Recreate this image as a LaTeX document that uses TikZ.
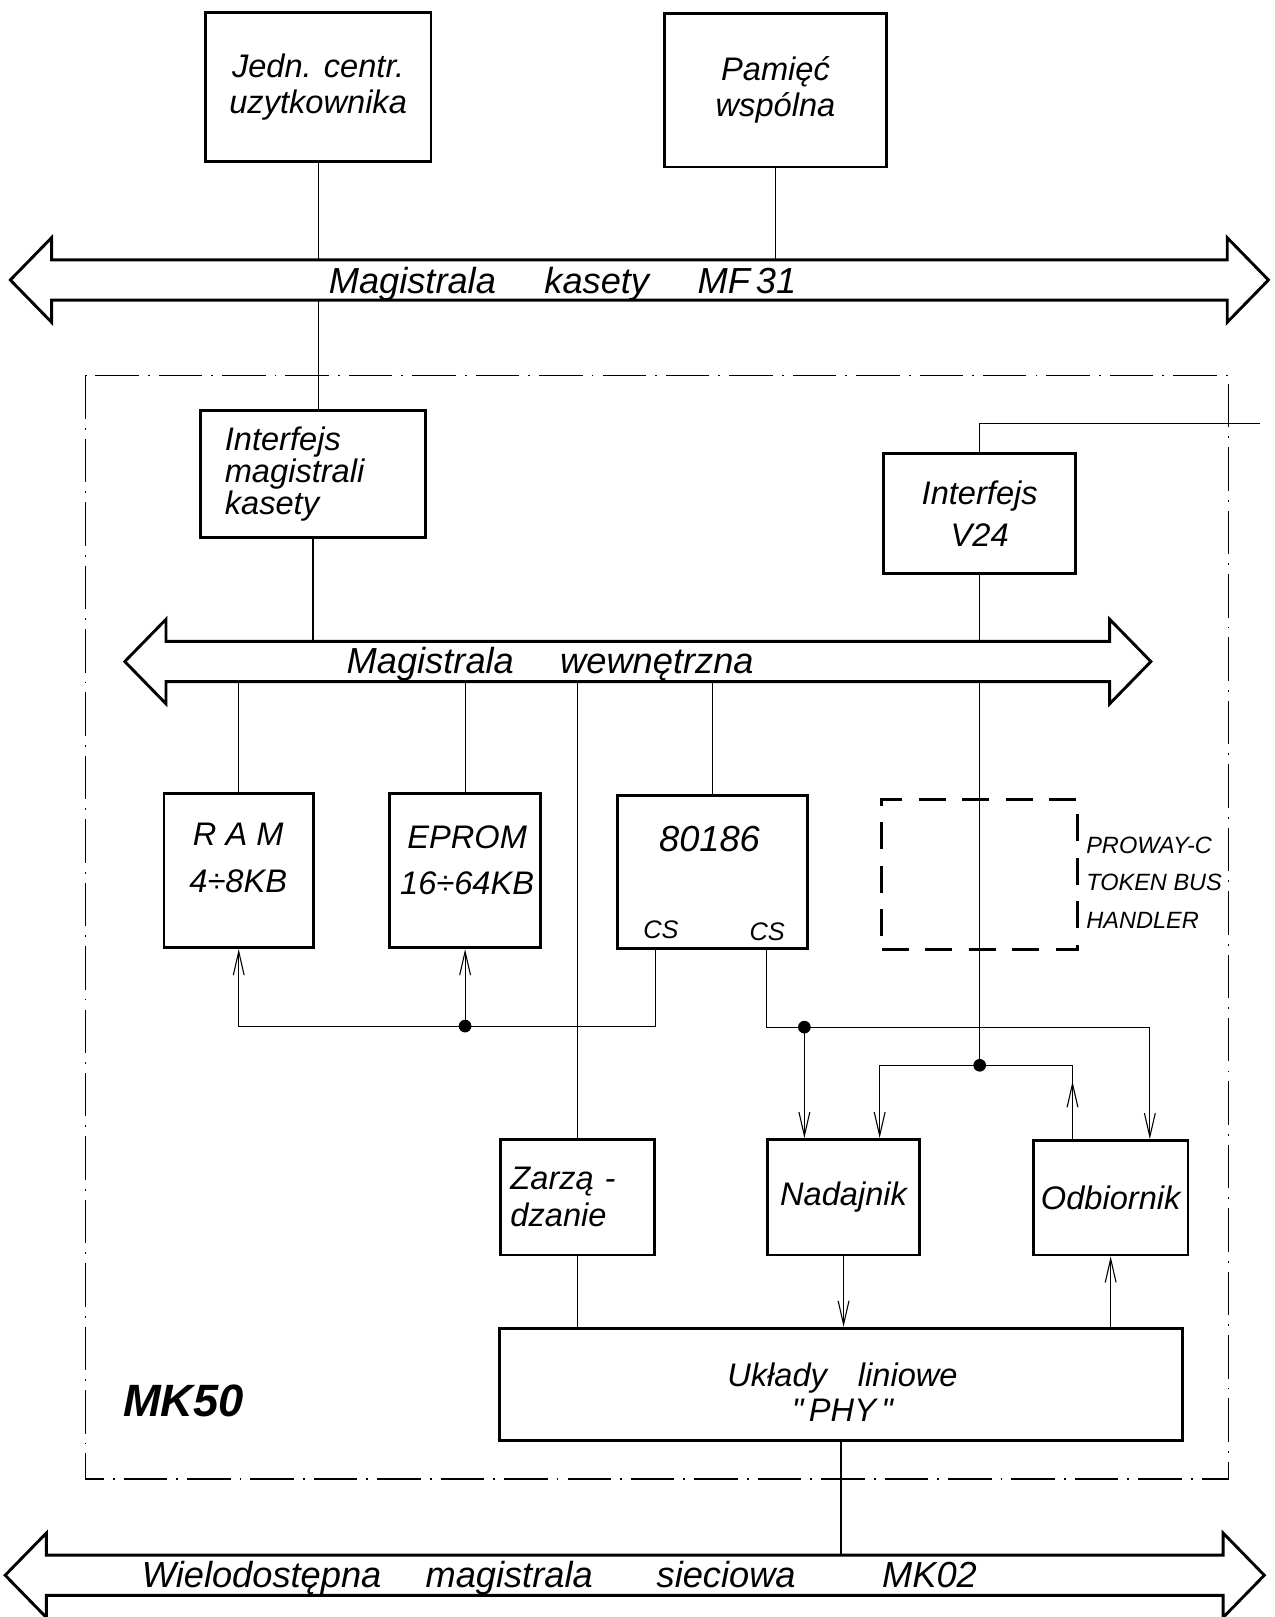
\documentclass[tikz,border=0pt]{standalone}
\usepackage{fontspec}
\setmainfont{Liberation Sans}
\usepackage{tikz}
\usetikzlibrary{arrows.meta,calc}

% double arrow of a bus: left tip x, right tip x, axis y
\newcommand{\szyna}[3]{%
  \draw[bus] (#1,#3) -- ++(40,-41) -- ++(0,21.5) -- ({#2-40},{#3-19.5})
    -- ++(0,-21.5) -- (#2,#3) -- ++(-40,41) -- ++(0,-21.5)
    -- ({#1+40},{#3+19.5}) -- ++(0,21.5) -- cycle;}

\begin{document}
\begin{tikzpicture}[x=0.02cm, y=-0.02cm,
    >={Straight Barb[length=13pt,width=6pt]},
    blok/.style={draw, line width=1.6pt, inner sep=0pt},
    opis/.style={font=\itshape\fontsize{18}{#1}\selectfont, align=center, inner sep=0pt},
    opis/.default=20,
    pol/.style={line width=0.6pt},
    bus/.style={draw, line width=1.6pt, fill=white, line join=miter},
    ramka/.style={line width=0.8pt, dash pattern=on 24pt off 5pt on 1pt off 5pt}]
  \useasboundingbox (0,0) rectangle (1236,1568);

  % bus axes and free ends
  \coordinate (b1) at (0,271.5);
  \coordinate (b2) at (0,641.5);
  \coordinate (b3) at (0,1527.5);
  \coordinate (v24out) at (1222,411);
  \coordinate (j1) at (451,995);
  \coordinate (j2) at (950,1033);
  \coordinate (j3) at (780,996);

  % cassette
  \node[blok, opis=19.5, minimum width=4.38cm, minimum height=2.9cm] (jedn) at (308.5,84.5) {Jedn. centr.\\uzytkownika};
  \node[blok, opis, minimum width=4.32cm, minimum height=2.98cm] (pam) at (752,87.5) {Pamięć\\wspólna};

  % MK50 frame
  \draw[ramka] (83,364) rectangle (1191,1434);
  \node[font=\bfseries\itshape\fontsize{25}{30}\selectfont, inner sep=0pt] (mk50) at (178,1358) {MK50};

  \node[blok, opis=16, align=left, minimum height=2.46cm, inner xsep=0.48cm, text width=3.42cm] (imk) at (303.5,459.5) {Interfejs\\magistrali\\kasety};
  \node[blok, opis=23, minimum width=3.72cm, minimum height=2.32cm] (v24) at (950,498) {Interfejs\\V24};

  % memories and cpu
  \node[blok, minimum width=2.9cm, minimum height=3cm] (ram) at (231.5,844) {};
  \node[opis=25.5] (ramtxt) at (231,832) {R A M\\4÷8KB};
  \node[blok, minimum width=2.92cm, minimum height=3cm] (eprom) at (451,844) {};
  \node[opis=25.5] (epromtxt) at (453,834) {EPROM\\16÷64KB};
  \node[blok, minimum width=3.68cm, minimum height=2.98cm] (cpu) at (691,845.5) {};
  \node[opis, font=\itshape\fontsize{20}{24}\selectfont] (cputxt) at (688,814) {80186};
  \node[opis, font=\itshape\fontsize{14}{16}\selectfont] (csa) at (641,902) {CS};
  \node[opis, font=\itshape\fontsize{14}{16}\selectfont] (csb) at (744,904) {CS};
  \node[blok, dash pattern=on 15pt off 9pt, minimum width=3.8cm, minimum height=2.92cm] (proway) at (950,848) {};
  \node[opis, align=left, anchor=west, font=\itshape\fontsize{13}{20.5}\selectfont] (prowaytxt) at (1053,856) {PROWAY-C\\TOKEN BUS\\HANDLER};

  % line side
  \node[blok, opis=20.5, align=left, minimum height=2.24cm, inner xsep=0.2cm, text width=2.6cm] (zarz) at (560,1161) {Zarzą -\\dzanie};
  \node[blok, opis, minimum width=2.96cm, minimum height=2.24cm] (nad) at (818,1161) {Nadajnik};
  \node[blok, opis, minimum width=3cm, minimum height=2.22cm] (odb) at (1077,1161.5) {Odbiornik};
  \node[blok, minimum width=13.26cm, minimum height=2.18cm] (phy) at (815.5,1342.5) {};
  \node[opis=19.5] (phytxt) at (817,1350) {Układy\hspace{0.6cm}liniowe\\\textquotedbl\,PHY\,\textquotedbl};

  % connections
  \draw[pol] (jedn.south) -- (jedn.south |- imk.north);
  \draw[pol] (pam.south) -- (pam.south |- b1);
  \draw[pol] (imk.south) -- (imk.south |- b2);
  \draw[pol] (v24.north) |- (v24out);
  \draw[pol] (v24.south) -- (j2);
  \foreach \n in {ram,eprom,cpu,zarz}
    \draw[pol] (\n.north) -- (\n.north |- b2);

  % chip selects
  \coordinate (csl) at ([xshift=-1.1cm]cpu.south);
  \coordinate (csr) at ([xshift=1.04cm]cpu.south);
  \draw[pol] (csl) |- (j1);
  \draw[pol,->] (j1) -| (ram.south);
  \draw[pol,->] (j1) -- (eprom.south);
  \draw[pol] (csr) |- (j3);
  \draw[pol,->] (j3) -- (j3 |- nad.north);
  \draw[pol,->] (j3) -| ([xshift=0.76cm]odb.north);
  \draw[pol,->] (j2) -| ([xshift=0.7cm]nad.north);
  \draw[pol] ([xshift=-0.74cm]odb.north) |- (j2);
  \draw[pol,->] ([xshift=-0.74cm]odb.north) -- ++(0,-56);
  \draw[pol,->] (nad.south) -- (nad.south |- phy.north);
  \draw[pol,->] (phy.north -| odb.south) -- (odb.south);
  \draw[pol] (zarz.south) -- (zarz.south |- phy.north);
  \draw[pol] (phy.south) -- (phy.south |- b3);
  \foreach \j in {j1,j2,j3}
    \fill (\j) circle (3.5pt);

  % buses
  \szyna{10}{1230}{271.5}
  \szyna{121}{1116}{641.5}
  \szyna{5}{1226}{1527.5}
  \node[opis, font=\itshape\fontsize{20}{24}\selectfont, anchor=base] (mf31) at (545.5,285) {Magistrala\hspace{0.94cm}kasety\hspace{0.94cm}MF\,31};
  \node[opis, font=\itshape\fontsize{20}{24}\selectfont, anchor=base] (wewn) at (533.5,653) {Magistrala\hspace{0.9cm}wewnętrzna};
  \node[opis, font=\itshape\fontsize{20}{24}\selectfont, anchor=base] (mk02) at (542.5,1539) {Wielodostępna\hspace{0.86cm}magistrala\hspace{1.24cm}sieciowa\hspace{1.68cm}MK02};
\end{tikzpicture}
\end{document}
